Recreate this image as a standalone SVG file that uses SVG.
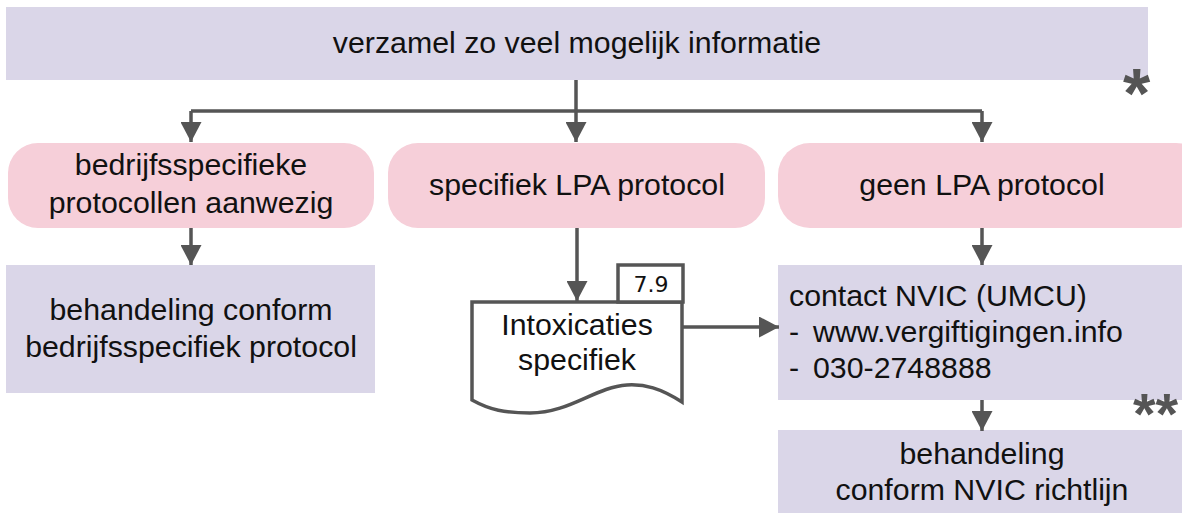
<svg xmlns="http://www.w3.org/2000/svg" width="1182" height="513" viewBox="0 0 1182 513">
<style>
.box{fill:#DAD6E8;}
.pill{fill:#F6CFD9;}
.t{font-family:"Liberation Sans",Arial,sans-serif;font-size:30.3px;fill:#111;}
.c{text-anchor:middle;}
.con{fill:none;stroke:#555;stroke-width:3.5;}
.doc{fill:#fff;stroke:#555;stroke-width:3.5;}
.star{font-family:"Liberation Sans",Arial,sans-serif;font-weight:bold;fill:#555;}
</style>
<defs>
<marker id="ah" viewBox="0 0 20 21" refX="20" refY="10.5" markerWidth="20" markerHeight="21" markerUnits="userSpaceOnUse" orient="auto">
<path d="M0,0 L20,10.5 L0,21 Z" fill="#555"/>
</marker>
</defs>
<g id="n-top">
<rect class="box" x="6" y="7" width="1142" height="73"/>
<text class="t c" x="577" y="53">verzamel zo veel mogelijk informatie</text>
<text class="star" x="1123" y="118" font-size="70">*</text>
</g>
<g id="n-bedrijf">
<rect class="pill" x="8" y="143" width="366" height="85" rx="30" ry="30"/>
<text class="t c" x="191" y="175">bedrijfsspecifieke</text>
<text class="t c" x="191" y="213">protocollen aanwezig</text>
</g>
<g id="n-lpa">
<rect class="pill" x="388" y="143" width="377" height="85" rx="30" ry="30"/>
<text class="t c" x="577" y="195">specifiek LPA protocol</text>
</g>
<g id="n-geen">
<rect class="pill" x="778" y="143" width="430" height="85" rx="32" ry="32"/>
<text class="t c" x="982" y="195">geen LPA protocol</text>
</g>
<g id="n-beh1">
<rect class="box" x="6" y="265" width="369" height="128"/>
<text class="t c" x="191" y="320">behandeling conform</text>
<text class="t c" x="191" y="357">bedrijfsspecifiek protocol</text>
</g>
<g id="n-doc">
<path class="doc" d="M472,302 H682 V402 C660,388 645,384 627,385 C595,387 570,413 530,413 C505,413 490,410 472,400 Z"/>
<rect class="doc" x="618" y="265" width="65" height="37"/>
<text x="651" y="292" font-family="DejaVu Sans,Verdana,sans-serif" font-size="22" fill="#111" text-anchor="middle">7.9</text>
<text class="t c" x="577" y="335">Intoxicaties</text>
<text class="t c" x="577" y="370">specifiek</text>
</g>
<g id="n-nvic">
<rect class="box" x="778" y="265" width="404" height="135"/>
<text class="t" x="789" y="306">contact NVIC (UMCU)</text>
<text class="t" y="342"><tspan x="789">-</tspan><tspan x="813">www.vergiftigingen.info</tspan></text>
<text class="t" y="378"><tspan x="789">-</tspan><tspan x="813">030-2748888</tspan></text>
<text class="star" x="1133" y="434" font-size="58">**</text>
</g>
<g id="n-beh2">
<rect class="box" x="778" y="430" width="404" height="83"/>
<text class="t c" x="982" y="464">behandeling</text>
<text class="t c" x="982" y="500">conform NVIC richtlijn</text>
</g>
<g id="connectors">
<path class="con" d="M191,111 H982"/>
<path class="con" d="M576,80 V142" marker-end="url(#ah)"/>
<path class="con" d="M191,111 V142" marker-end="url(#ah)"/>
<path class="con" d="M982,111 V142" marker-end="url(#ah)"/>
<path class="con" d="M191,228 V265" marker-end="url(#ah)"/>
<path class="con" d="M577,228 V301" marker-end="url(#ah)"/>
<path class="con" d="M683,327 H779" marker-end="url(#ah)"/>
<path class="con" d="M982,228 V265" marker-end="url(#ah)"/>
<path class="con" d="M982,400 V431" marker-end="url(#ah)"/>
</g>
</svg>
